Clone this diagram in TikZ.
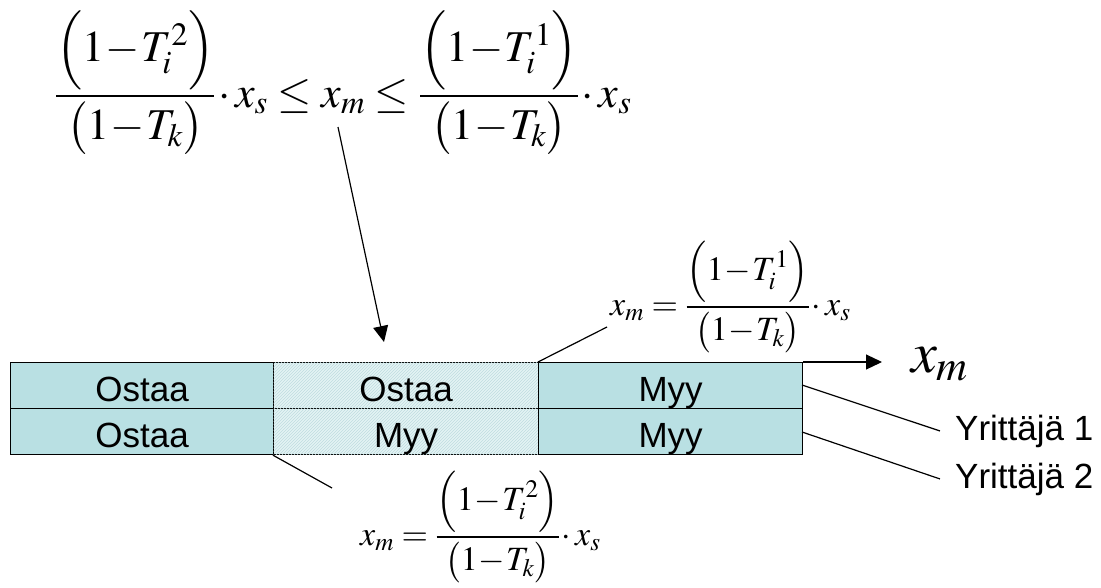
\documentclass[tikz,border=0pt]{standalone}
\usepackage{mathptmx}
\usepackage{fontspec}
\setmainfont{Liberation Sans}
\usetikzlibrary{patterns,arrows.meta}
\definecolor{cellfill}{HTML}{B9E0E3}
\definecolor{hatchbg}{HTML}{E4F3F4}
\definecolor{hatchline}{HTML}{BFDDE0}
\newcommand{\mfrac}[1]{{\displaystyle\frac{\Bigl(1\!-\!T_i^{#1}\Bigr)}{\bigl(1\!-\!T_k\bigr)}}}
\newcommand{\tdot}{\mkern1mu\mathord{\cdot}\mkern2mu}
\tikzset{
  cell/.style={draw=black, line width=1.2pt, fill=cellfill, minimum height=46pt, text height=39pt, text depth=7pt, inner sep=0pt, font=\fontsize{35}{40}\selectfont, anchor=north west},
  hcell/.style={cell, fill=hatchbg, postaction={pattern=north east lines, pattern color=hatchline}},
  lead/.style={draw=black, line width=1.2pt},
  arr/.style={draw=black, line width=1.2pt, -{Triangle[length=16pt,width=15pt]}},
  bigmath/.style={inner sep=0pt, anchor=base west, font=\fontsize{44}{50}\selectfont},
  smallmath/.style={inner sep=0pt, anchor=base west, font=\fontsize{34}{40}\selectfont},
  lbl/.style={inner sep=0pt, font=\fontsize{35}{40}\selectfont, anchor=base west}
}
\begin{document}
\begin{tikzpicture}[x=1pt,y=-1pt]
\useasboundingbox (0,0) rectangle (1101,587);
% big formula
\node[bigmath] (big) at (55,107) {$\mfrac{2}\tdot x_s \le x_m \le \mfrac{1}\tdot x_s$};
% table
\node[cell, minimum width=263pt] (c11) at (10,362) {Ostaa};
\node[hcell, minimum width=265pt] (c12) at (273,362) {Ostaa};
\node[cell, minimum width=264pt] (c13) at (538,362) {Myy};
\node[cell, minimum width=263pt] (c21) at (10,408) {Ostaa};
\node[hcell, minimum width=265pt] (c22) at (273,408) {Myy};
\node[cell, minimum width=264pt] (c23) at (538,408) {Myy};
% axis
\coordinate (axend) at (882,362);
\draw[arr] (c13.north east) -- (axend);
\node[inner sep=0pt, anchor=base west, font=\fontsize{58}{64}\selectfont] (xm) at (911,372) {$x_m$};
% arrow from formula
\coordinate (astart) at (338,127);
\coordinate (atip) at (384,342);
\draw[arr] (astart) -- (atip);
% upper small formula
\node[smallmath] (f1) at (610,315.5) {$x_m=\mfrac{1}\tdot x_s$};
\coordinate (l1) at (607,327);
\draw[lead] (c13.north west) -- (l1);
% lower small formula
\node[smallmath] (f2) at (360,545.5) {$x_m=\mfrac{2}\tdot x_s$};
\coordinate (l2) at (332,488);
\draw[lead] (c22.south west) -- (l2);
% labels
\node[lbl] (y1) at (955,440) {Yrittäjä 1};
\node[lbl] (y2) at (955,488) {Yrittäjä 2};
\coordinate (y1s) at (802,385);
\coordinate (y2s) at (802,432);
\draw[lead] (y1s) -- ([xshift=-15pt]y1.west);
\draw[lead] (y2s) -- ([xshift=-15pt]y2.west);
\end{tikzpicture}
\end{document}
